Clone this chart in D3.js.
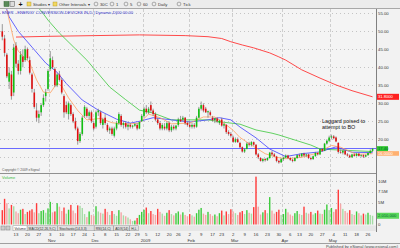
<!DOCTYPE html>
<html lang="en">
<head>
<meta charset="UTF-8">
<title>ENER daily - eSignal</title>
<style>
  body { margin: 0; background: #f2f2f2; }
  svg { display: block; font-family: "Liberation Sans", Arial, sans-serif; }
</style>
</head>
<body>
<svg id="chart" width="400" height="248"></svg>
<script src="https://d3js.org/d3.v7.min.js"></script>
<script>
const firstDay = '2008-10-03'
const lastDay = '2009-05-28'
const holidays = ['2008-11-27', '2008-12-25', '2009-01-01', '2009-01-19', '2009-02-16', '2009-04-10', '2009-05-25']

// daily candles: [open, high, low, close]
const candles = [
  [50,52,47.5,48.5],[48,49,43,44],[43.5,44,37,37.5],[36,40,34,38.5],[38,39,31,32],[33,46.5,32,45.5],
  [46,47,40,41],[41,42,38,39],[39,44.5,38,43.5],[43,45,40,41.5],[42,46,41.5,45],
  [45,45.5,42,42.5],[42,43,38,38.5],[38,38.5,33,34],[33,34,28.5,29],[28,30,25,26],
  [26,28,24.5,27],[27.5,30,26.5,29.5],[29.5,32.5,29,31.5],[32,34,30.5,33],[34,39.5,33.5,39],
  [39.5,44.5,39,42.5],[42,43,39.5,40],[39.5,40,34.5,35],[35,38.5,34.5,38],[38,39,36,36.5],
  [36.5,37,32.5,33],[32,32.5,26,27.5],[29.5,30.5,27,27.5],[27,30.5,25.5,30],[29.5,30,26.5,27],
  [27,27.5,24.5,25],[25,26,22.5,23],[23,23.5,18.5,19.5],[19.5,22,19,21.5],[21.5,26.5,21,26],
  [26.5,29.5,26,29],[28.5,29,26,26.5],[26.5,28,25.5,27.5],[27.5,28,24.5,25],
  [24.5,25,22.5,23],[23.5,28,23,27.5],[27.5,28.5,26.5,28],[27.5,28,24,24.5],[24,26,23,25.5],
  [26,27,24,24.5],[24,24.5,22,22.5],[22.5,23.5,21.5,23],[23,23.5,21,21.5],[21,23.5,20.5,23],
  [23,25,22.5,24.5],[24.5,27.5,24,27],[26.5,27,23.5,24],[24,25,23,24.5],[24.5,25,23,23.5],
  [23.5,24.5,22.5,24],[24,24.5,23,23.5],[23.5,24,23,23.8],[23.8,24.5,23.5,24.2],
  [24,24.5,22.5,23],[23,25,22.8,24.8],[25,27,24.8,26.5],
  [26.5,29,26,28.5],[28.5,29.5,27,27.5],[27.5,29,27,28.5],[29.5,30.5,27.5,28],[28,28.5,26.5,27],
  [27,27.5,25,25.5],[25.5,26,24,24.5],[24.5,25,22.5,23],[23,24.5,22.5,24],[23.5,24.5,22.5,23],
  [23,25,22.5,24.5],[24.5,25,22,22.5],[22.5,24,22,23.5],[23.5,24,22.5,23],[23,24,22.5,23.8],
  [24,26,23.5,25.5],[25.5,26.5,24.8,25],[25.5,26.5,25,26],[26,26.2,24,24.5],[24.5,25,23.5,24],
  [24,25,23,23.5],[23.5,24.5,23,24],[24,24.5,23,23.5],[23.5,26.5,23.2,26],[26,29,25.8,28.5],
  [28.5,30.5,28,29.5],[29.5,30,27.5,28],[28.5,29,27.3,27.5],[27.5,28,26,27.8],[27.5,28,26.5,26.8],
  [26,26.5,25,25.3],[25.3,26,24.5,25.8],[25.8,26.2,24.5,25],[24.5,25.5,24,25.2],
  [25.5,26,23.5,23.8],[23.8,24.5,23,24.2],[24,24.2,21.5,22],[22,22.5,21,21.5],[21.5,22,20.5,21],
  [20.5,21,19,19.3],[19.3,20.5,19,20],[20,20.5,19,19.2],[19,19.3,17.5,17.8],[17.8,18,16.3,16.6],
  [16.6,17.5,16.2,17.2],[17.3,19.2,17.2,18.8],[18.8,19.3,18,18.5],[18.5,19.5,18,19.2],[19.2,19.4,18.2,18.5],
  [18.5,18.6,15.5,15.8],[15.8,16.2,14.5,15],[14.8,15,13.8,14],[14,14.8,13.6,14.5],[14.5,14.8,13.8,14.2],
  [14.2,15,14,14.8],[14.8,16.5,14.6,16.3],[16.3,16.8,15.5,15.8],[15.8,16.2,15,15.3],[15.2,15.4,13.6,14],
  [14,14.3,13.2,13.6],[13.6,14.8,13.4,14.5],
  [14.5,15.2,14,14.9],[14.9,15.8,14.7,15.5],[15.5,15.7,14.5,14.8],[14.8,15,14,14.3],[14.3,14.6,13.6,14],
  [14,15,13.8,14.8],[14.8,15.8,14.6,15.6],[15.6,16,15,15.3],[15.3,16.2,15,16],[16,16.3,15.2,15.5],
  [15.5,16,15,15.8],[15.8,16,14.5,14.8],[14.8,15.2,14.2,14.5],[14.5,15.5,14.3,15.3],[15.3,16.5,15.2,16.2],
  [16.2,16.4,15.5,15.8],[15.8,17.5,15.6,17.3],[17.3,17.6,16.5,16.8],[16.8,19,16.7,18.8],[18.8,20,18.5,19.6],
  [19.6,21,19.2,20.5],
  [20.5,21.3,20,20.8],[20.8,21.2,20,20.3],[20.5,20.8,19.2,19.4],[19,19.2,16,16.5],[16.5,17.2,16,16.3],
  [16.3,17,15.8,16.8],[16.8,17,15.6,15.8],[15.8,16.2,15.2,15.5],[15.5,15.8,14.8,15],[15,16,14.9,15.8],
  [15.8,16,15.2,15.4],[15.4,16.2,15.2,16],[16,16.2,15.2,15.4],[15.4,15.8,15,15.6],[15.6,15.8,14.8,15.2],
  [15.2,15.8,15,15.6],[15.6,16.4,15.4,16.2],[16.2,17.2,16,16.8],[16.8,17.6,16.5,17.4]
]

// daily volume, millions of shares
const volumeM = [
  3.3,5.9,4.9,3.7,4.5,4.2,3.0,2.6,3.4,3.6,2.4,2.9,3.2,3.5,2.8,4.9,2.6,3.1,3.3,2.7,3.7,
  5.2,2.8,3.0,4.9,4.1,3.1,3.9,2.5,3.4,4.5,3.2,2.6,4.4,4.3,3.8,2.4,1.7,3.0,2.2,
  2.0,4.2,3.0,2.7,2.5,3.6,2.9,2.2,3.1,2.4,2.0,3.3,2.8,2.1,1.9,1.6,1.2,0.8,0.9,1.5,2.2,2.9,
  3.4,3.9,2.6,3.1,2.4,2.2,3.6,2.9,2.5,2.0,2.7,3.3,2.4,2.1,2.6,3.0,2.3,2.8,2.2,1.9,
  2.4,2.1,1.8,2.6,3.4,3.8,2.5,2.2,2.9,2.4,2.0,2.3,1.9,2.6,3.2,2.1,3.0,2.4,3.5,
  3.0,2.6,2.2,2.8,3.1,2.4,3.3,2.7,2.5,4.0,11.0,4.1,2.3,2.8,3.3,2.6,6.3,3.2,2.5,2.9,3.4,2.2,
  2.4,3.6,2.8,2.3,2.0,2.6,3.1,2.4,2.2,4.1,2.7,2.5,2.9,2.3,2.6,3.2,2.5,2.4,3.4,4.6,3.3,
  3.8,2.9,3.5,8.0,4.8,3.6,3.1,2.7,3.3,2.4,2.2,3.0,2.6,2.1,2.5,2.3,2.7,2.2,2.01
]

// moving averages: [date, value]
const ma200 = [['2008-10-13',48.4],['2008-10-31',48.6],['2008-12-01',48.8],['2008-12-30',49.0],['2009-01-29',48.8],
  ['2009-02-12',48.5],['2009-02-23',48.0],['2009-02-27',47.1],['2009-03-06',46.2],['2009-03-13',45.4],['2009-03-24',44.0],
  ['2009-03-30',42.9],['2009-04-02',42.0],['2009-04-14',39.3],['2009-04-24',37.0],['2009-05-05',35.1],['2009-05-14',33.5],['2009-05-28',31.8]]
const ma50 = [['2008-10-17',60],['2008-10-28',55.7],['2008-10-31',53.1],['2008-11-07',49.5],['2008-11-25',42],['2008-12-10',34.5],
  ['2008-12-19',31.0],['2008-12-30',28.1],['2009-01-08',27.3],['2009-01-21',25.4],['2009-02-12',25.4],['2009-02-23',24.8],
  ['2009-03-05',24.2],['2009-03-16',22.6],['2009-03-25',21.7],['2009-03-30',21.2],['2009-04-20',18.4],['2009-04-24',17.3],
  ['2009-05-07',17.0],['2009-05-28',16.6]]
const ma20 = [['2008-10-03',60],['2008-10-08',54],['2008-10-14',50],['2008-10-22',45.6],['2008-10-30',41.2],['2008-11-06',38.6],
  ['2008-11-12',35.5],['2008-11-21',30.9],['2008-12-03',28.1],['2008-12-15',25.6],['2008-12-23',24.5],['2008-12-30',25.0],
  ['2009-01-08',26.0],['2009-01-21',25.4],['2009-02-02',24.8],['2009-02-12',25.4],['2009-02-20',26.0],['2009-02-27',25.4],
  ['2009-03-05',23.4],['2009-03-16',20.4],['2009-03-24',17.3],['2009-04-02',15.2],['2009-04-14',16.0],['2009-04-24',16.5],
  ['2009-05-05',17.9],['2009-05-14',16.4],['2009-05-28',16.3]]
const ma10 = [['2008-10-07',56],['2008-10-09',50.4],['2008-10-10',47.6],['2008-10-14',44.5],['2008-10-21',41.2],['2008-10-24',36.5],
  ['2008-10-29',33.1],['2008-11-03',32.9],['2008-11-06',35.6],['2008-11-10',34.8],['2008-11-13',31.5],['2008-11-19',28.0],
  ['2008-11-25',25.4],['2008-12-04',25.8],['2008-12-11',24.6],['2008-12-19',24.2],['2008-12-30',24.5],['2009-01-06',27.0],
  ['2009-01-13',26.0],['2009-01-21',24.3],['2009-02-02',24.5],['2009-02-10',26.2],['2009-02-18',26.2],['2009-02-25',24.0],
  ['2009-03-02',22.5],['2009-03-05',20.5],['2009-03-11',18.8],['2009-03-17',17.2],['2009-03-20',16.0],['2009-03-27',15.0],
  ['2009-04-02',14.6],['2009-04-14',15.0],['2009-04-23',16.2],['2009-05-01',18.3],['2009-05-07',17.8],['2009-05-18',15.8],
  ['2009-05-28',16.0]]
const trendLevel = 17.45

const priceTicks = [15, 20, 25, 30, 35, 40, 45, 50, 55]
const volumeTicks = [0, 5, 7.5, 10]
const volumeTickLabels = ['0', '5M', '7.5M', '10M']
const dayTicks = ['2008-10-13','2008-10-20','2008-10-27','2008-11-03','2008-11-10','2008-11-17','2008-11-24','2008-12-01',
  '2008-12-08','2008-12-15','2008-12-22','2008-12-29','2009-01-05','2009-01-12','2009-01-20','2009-01-26','2009-02-02',
  '2009-02-09','2009-02-17','2009-02-23','2009-03-02','2009-03-09','2009-03-16','2009-03-23','2009-03-30','2009-04-06',
  '2009-04-13','2009-04-20','2009-04-27','2009-05-04','2009-05-11','2009-05-18','2009-05-26']
const monthStarts = ['2008-11-03','2008-12-01','2009-01-02','2009-02-02','2009-03-02','2009-04-01','2009-05-01']
const monthLabels = ['Nov', 'Dec', '2009', 'Feb', 'Mar', 'Apr', 'May']
const studyTabs = ['Volume', 'MACD(12,26,9,C)', 'Stochastic(14,3,3)', 'RSI(14,C)', 'ADX(14)', 'H,L']

const parse = d3.timeParse('%Y-%m-%d')
const fmt = d3.timeFormat('%Y-%m-%d')
const days = []
for (let d = parse(firstDay); d <= parse(lastDay); d = d3.timeDay.offset(d, 1)) {
  const key = fmt(d)
  if (d.getDay() === 0 || d.getDay() === 6 || holidays.includes(key)) continue
  days.push(key)
}
const dayIndex = new Map(days.map((d, i) => [d, i]))

const svg = d3.select('#chart')
const W = 400, H = 248
const plotRight = 376
const priceTop = 9, priceBottom = 173
const volTop = 174, volBottom = 225

const x = d3.scaleLinear().domain([-1, days.length + 0.5]).range([0, plotRight])
const y = d3.scaleLinear().domain([15, 55]).range([157.3, 13.3])
const yv = d3.scaleLinear().domain([0, 10]).range([224.5, 181])
const fmt2 = d3.format('.2f')

svg.append('rect').attr('width', W).attr('height', H).attr('fill', '#f2f2f2')

// panels
svg.append('rect').attr('x', 0).attr('y', priceTop).attr('width', plotRight).attr('height', priceBottom - priceTop).attr('fill', '#f4f4f4')
svg.append('rect').attr('x', 0).attr('y', volTop).attr('width', plotRight).attr('height', volBottom - volTop).attr('fill', '#f4f4f4')

const defs = svg.append('defs')
defs.append('clipPath').attr('id', 'clipPrice').append('rect')
  .attr('x', 0).attr('y', priceTop).attr('width', plotRight).attr('height', priceBottom - priceTop)
defs.append('clipPath').attr('id', 'clipVol').append('rect')
  .attr('x', 0).attr('y', volTop).attr('width', plotRight).attr('height', volBottom - volTop)

// grid
const grid = svg.append('g')
grid.selectAll('.hgrid').data(priceTicks).enter().append('line')
  .attr('x1', 0).attr('x2', plotRight).attr('y1', d => Math.round(y(d)) + 0.5).attr('y2', d => Math.round(y(d)) + 0.5)
  .attr('stroke', '#b8b8b8').attr('stroke-width', 0.8).attr('stroke-dasharray', '1,3')
grid.selectAll('.vgrid').data(volumeTicks.slice(1)).enter().append('line')
  .attr('x1', 0).attr('x2', plotRight).attr('y1', d => Math.round(yv(d)) + 0.5).attr('y2', d => Math.round(yv(d)) + 0.5)
  .attr('stroke', '#b8b8b8').attr('stroke-width', 0.8).attr('stroke-dasharray', '1,3')
grid.selectAll('.mgrid').data(monthStarts).enter().append('line')
  .attr('x1', d => Math.round(x(dayIndex.get(d) - 0.5)) + 0.5).attr('x2', d => Math.round(x(dayIndex.get(d) - 0.5)) + 0.5)
  .attr('y1', priceTop).attr('y2', volBottom)
  .attr('stroke', '#c4c4c4').attr('stroke-width', 0.8).attr('stroke-dasharray', '3,2')

// price panel
const pg = svg.append('g').attr('clip-path', 'url(#clipPrice)')

pg.append('line').attr('x1', 0).attr('x2', plotRight).attr('y1', y(trendLevel)).attr('y2', y(trendLevel))
  .attr('stroke', '#6a6aff').attr('stroke-width', 1.2)

const maLine = d3.line().x(d => x(dayIndex.get(d[0]))).y(d => y(d[1]))
;[[ma200, '#ff4a4a', 1], [ma50, '#3cc83c', 0.8], [ma20, '#4040ff', 0.8], [ma10, '#ffa060', 0.8]].forEach(([data, color, w]) => {
  pg.append('path').datum(data).attr('d', maLine).attr('fill', 'none').attr('stroke', color).attr('stroke-width', w)
})

const candle = pg.selectAll('.candle').data(candles).enter().append('g')
candle.append('line')
  .attr('x1', (d, i) => x(i)).attr('x2', (d, i) => x(i))
  .attr('y1', d => y(d[1])).attr('y2', d => y(d[2]))
  .attr('stroke', '#707070').attr('stroke-width', 0.7)
candle.append('rect')
  .attr('x', (d, i) => x(i) - 0.8).attr('width', 1.6)
  .attr('y', d => y(Math.max(d[0], d[3])))
  .attr('height', d => Math.max(0.6, Math.abs(y(d[0]) - y(d[3]))))
  .attr('fill', d => d[3] >= d[0] ? '#10c010' : '#e01010')

// annotation
const note = svg.append('g').attr('font-size', 5.4).attr('fill', '#111')
note.append('text').attr('x', 322).attr('y', 122.5).text('Laggard poised to')
note.append('text').attr('x', 322).attr('y', 129).text('attempt to BO')

svg.append('text').attr('x', 2).attr('y', 13.5).attr('font-size', 4.3).attr('fill', '#3030c8')
  .attr('textLength', 131).attr('lengthAdjust', 'spacingAndGlyphs')
  .text('ENER - ENERGY CONVERSION DEVICES IN,D | Dynamic,D|00:00:00')
svg.append('text').attr('x', 2).attr('y', 171).attr('font-size', 3.3).attr('fill', '#555')
  .text('Copyright © 2009 eSignal')

// separator between panels
svg.append('line').attr('x1', 0).attr('x2', plotRight).attr('y1', 173.5).attr('y2', 173.5).attr('stroke', '#909090').attr('stroke-width', 1)

// volume panel
const vg = svg.append('g').attr('clip-path', 'url(#clipVol)')
vg.selectAll('.vbar').data(volumeM).enter().append('rect')
  .attr('x', (d, i) => x(i) - 0.7).attr('width', 1.4)
  .attr('y', d => yv(d)).attr('height', d => yv(0) - yv(d))
  .attr('fill', (d, i) => {
    const up = candles[i][3] >= (i > 0 ? candles[i - 1][3] : candles[i][0])
    const strong = i === 0 || d >= volumeM[i - 1]
    return up ? (strong ? '#3ccc3c' : '#a6dca6') : (strong ? '#ff3a3a' : '#f4a6a6')
  })
svg.append('text').attr('x', 2).attr('y', 179).attr('font-size', 4).attr('fill', '#40c040').text('Volume')

// right axis
const ax = svg.append('g')
ax.append('line').attr('x1', plotRight + 0.5).attr('x2', plotRight + 0.5).attr('y1', priceTop).attr('y2', 232)
  .attr('stroke', '#808080').attr('stroke-width', 1)
ax.selectAll('.pt').data(priceTicks.slice(1)).enter().append('text')
  .attr('x', 378).attr('y', d => y(d) + 1.5).attr('font-size', 4.3).attr('fill', '#333')
  .text(d => fmt2(d))
ax.selectAll('.vt').data(volumeTicks).enter().append('text')
  .attr('x', 378).attr('y', d => yv(d) + 1.5).attr('font-size', 4.3).attr('fill', '#333')
  .text((d, i) => volumeTickLabels[i])

function tag(yPos, h, fill, color, width, text) {
  ax.append('rect').attr('x', plotRight + 1).attr('y', yPos - h / 2).attr('width', width).attr('height', h).attr('fill', fill)
  ax.append('text').attr('x', plotRight + 2).attr('y', yPos + 1.5).attr('font-size', 4.1).attr('fill', color).text(text)
}
const lastClose = candles[candles.length - 1][3]
const lastVol = volumeM[volumeM.length - 1]
const lastMa200 = ma200[ma200.length - 1][1]
const lastMa10 = ma10[ma10.length - 1][1]
tag(y(lastMa200), 6, '#ff2020', '#fff', 22, d3.format('.4f')(lastMa200))
tag(y(lastClose), 5, '#2ec82e', '#063', 11, fmt2(lastClose))
tag(y(lastClose) + 4.8, 4.6, '#ffb070', '#fff', 22, d3.format('.4f')(lastMa10))
tag(yv(lastVol), 6, '#5cd85c', '#063', 22, d3.format(',')(Math.round(lastVol * 1e6)))

// toolbar
const tb = svg.append('g')
tb.append('rect').attr('width', W).attr('height', 8).attr('fill', '#ececec')
tb.append('line').attr('x1', 0).attr('x2', W).attr('y1', 8.5).attr('y2', 8.5).attr('stroke', '#a8a8a8')
tb.append('rect').attr('x', 4).attr('y', 1.5).attr('width', 5).attr('height', 5).attr('fill', '#5a8a5a').attr('stroke', '#336633').attr('stroke-width', 0.5)
tb.append('rect').attr('x', 10).attr('y', 1.5).attr('width', 4.5).attr('height', 5).attr('fill', '#ddd').attr('stroke', '#555').attr('stroke-width', 0.5)
tb.append('text').attr('x', 18.5).attr('y', 6.6).attr('font-size', 7).attr('font-weight', 'bold').attr('fill', '#111').text('+')
const tbItems = [
  { x: 27, folder: true, label: 'Studies ▾' },
  { x: 53, folder: true, label: 'Other Intervals ▾' },
  { x: 94, label: '30C' }, { x: 110, label: '1' }, { x: 124, label: '5' },
  { x: 137, label: '60' }, { x: 152, label: 'Daily' }, { x: 177, label: 'Tick' }
]
tbItems.forEach(it => {
  if (it.folder) {
    tb.append('rect').attr('x', it.x).attr('y', 2).attr('width', 4).attr('height', 4).attr('fill', '#f2d860').attr('stroke', '#b09020').attr('stroke-width', 0.4)
  } else {
    tb.append('circle').attr('cx', it.x + 2).attr('cy', 4).attr('r', 1.9).attr('fill', 'none').attr('stroke', '#444').attr('stroke-width', 0.4)
  }
  tb.append('text').attr('x', it.x + 6).attr('y', 5.6).attr('font-size', 4.2).attr('fill', '#333').text(it.label)
})

// study tabs row
const tabs = svg.append('g')
tabs.append('rect').attr('x', 0).attr('y', 225.5).attr('width', plotRight).attr('height', 5.5).attr('fill', '#e6e6e6')
tabs.append('rect').attr('x', 1).attr('y', 226).attr('width', 4).attr('height', 4).attr('fill', '#ccc').attr('stroke', '#777').attr('stroke-width', 0.4)
tabs.append('rect').attr('x', 6).attr('y', 226).attr('width', 4).attr('height', 4).attr('fill', '#ccc').attr('stroke', '#777').attr('stroke-width', 0.4)
let tx = 13
studyTabs.forEach((t, i) => {
  const w = t.length * 1.85 + 3
  tabs.append('rect').attr('x', tx).attr('y', 225.8).attr('width', w).attr('height', 5)
    .attr('fill', i === 0 ? '#fff' : '#e0e0e0').attr('stroke', '#888').attr('stroke-width', 0.4)
  tabs.append('text').attr('x', tx + 1.5).attr('y', 229.8).attr('font-size', 3.4).attr('fill', '#333').text(t)
  tx += w
})

// date axis
const da = svg.append('g').attr('font-size', 4.3).attr('fill', '#333').attr('text-anchor', 'middle')
da.selectAll('.dt').data(dayTicks).enter().append('text')
  .attr('x', d => x(dayIndex.get(d))).attr('y', 236)
  .text(d => +d.slice(8))
da.selectAll('.mt').data(monthStarts).enter().append('text')
  .attr('x', d => x(dayIndex.get(d)) + 1.5).attr('y', 241.5)
  .text((d, i) => monthLabels[i])
svg.append('line').attr('x1', 0).attr('x2', W).attr('y1', 243.5).attr('y2', 243.5).attr('stroke', '#a0a0a0')
svg.append('text').attr('x', 398).attr('y', 247.5).attr('text-anchor', 'end').attr('font-size', 4).attr('fill', '#444')
  .text('Published by eSignal (www.esignal.com)')
</script>
</body>
</html>
